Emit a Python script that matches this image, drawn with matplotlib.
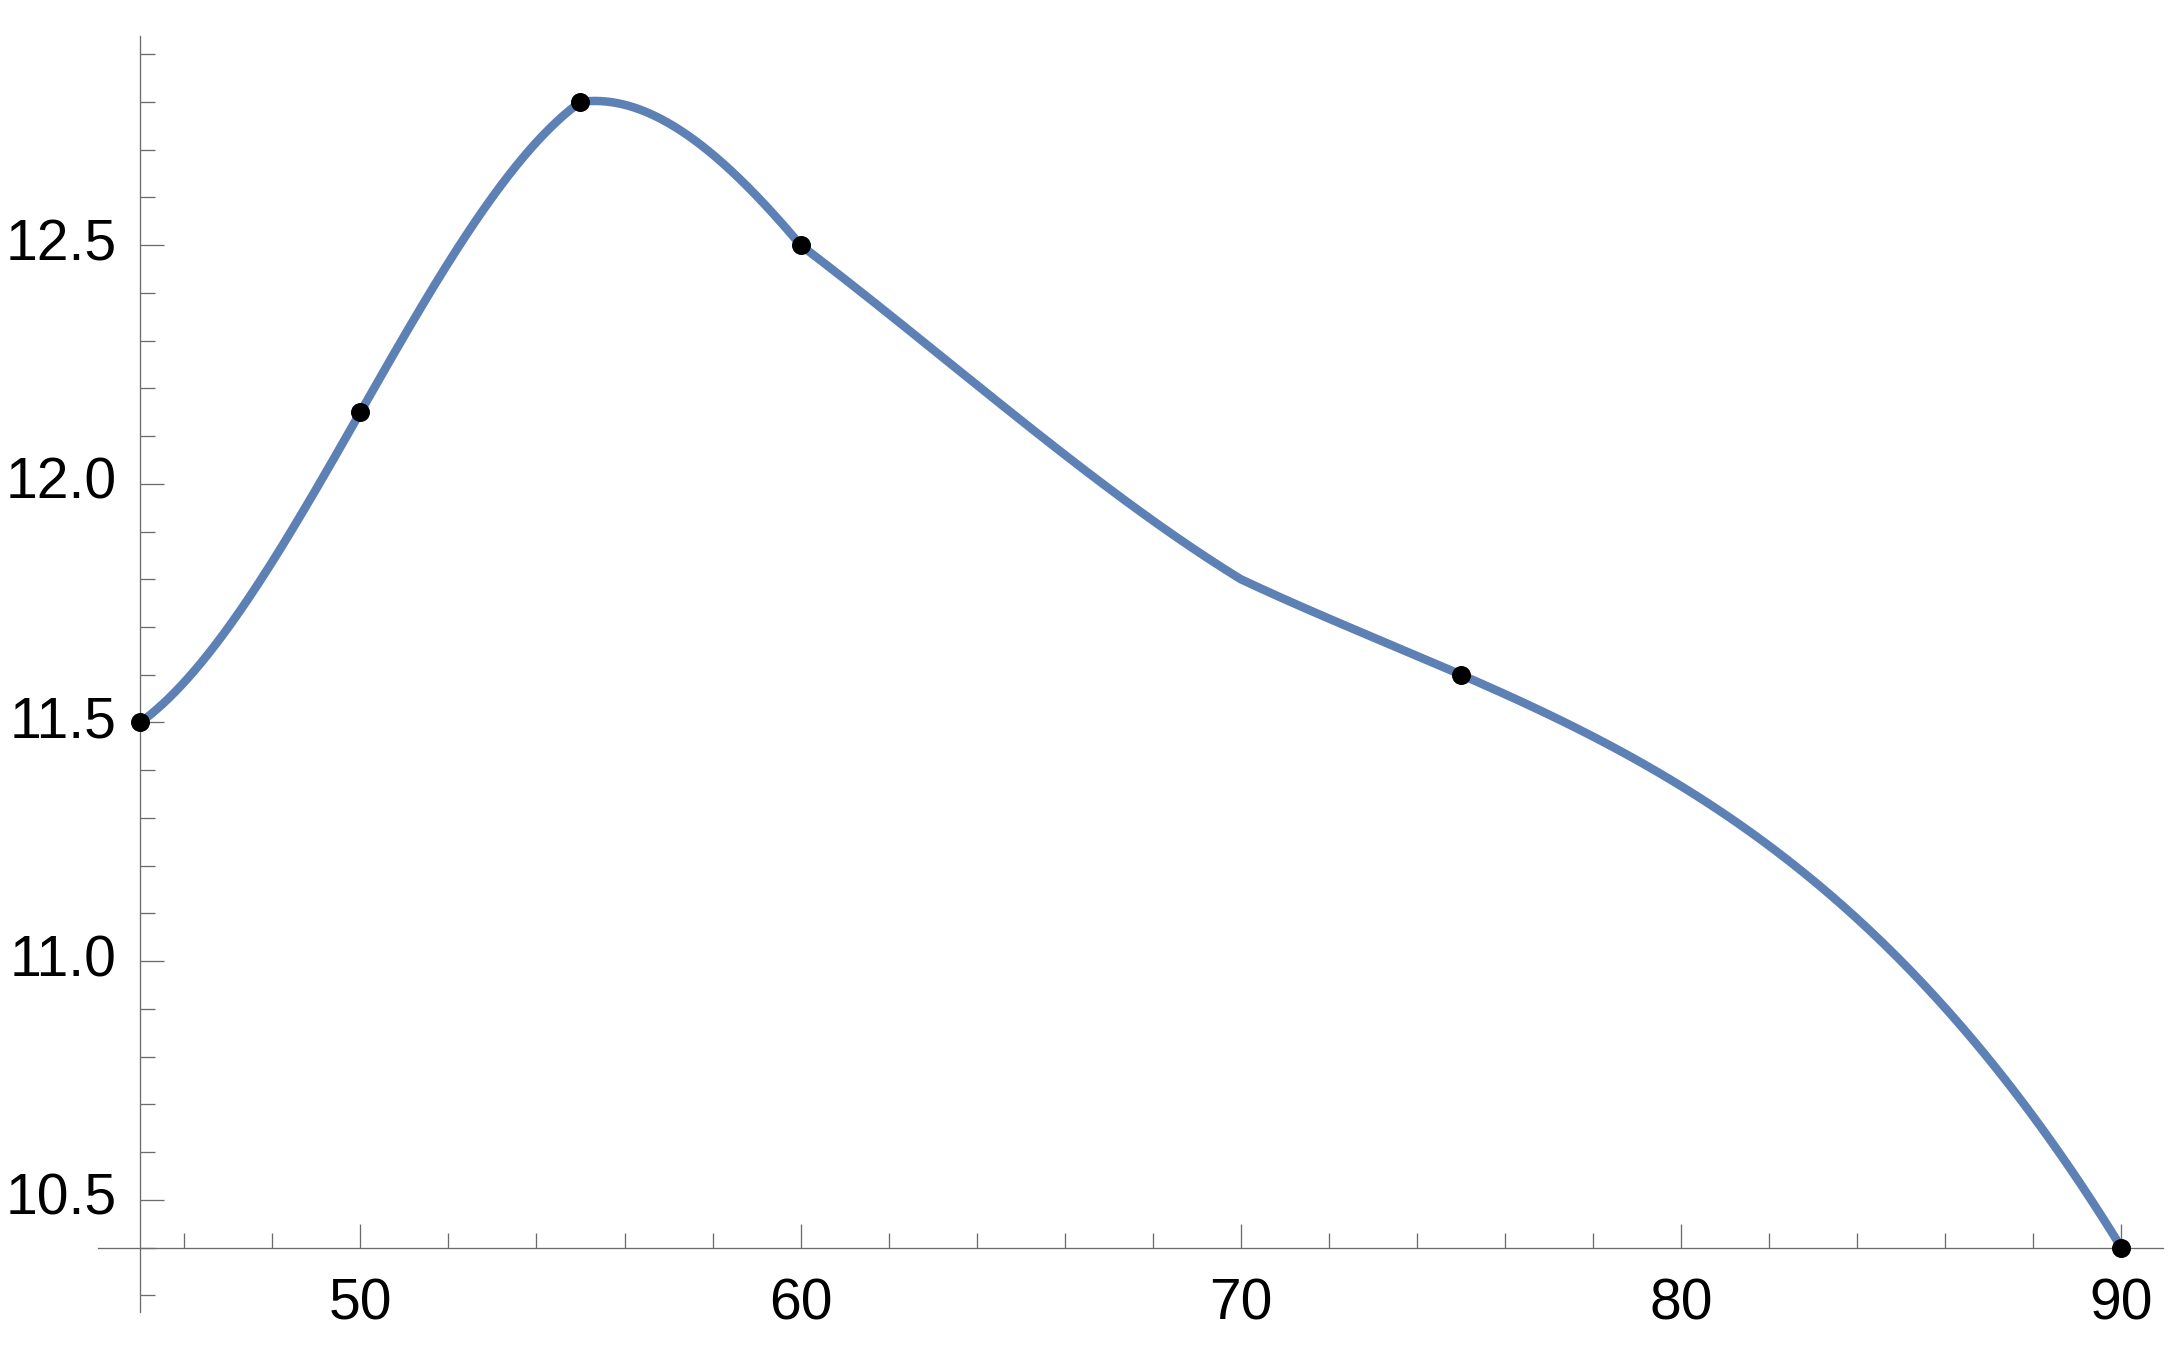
import numpy as np
import matplotlib
matplotlib.use("Agg")
import matplotlib.pyplot as plt
from matplotlib.ticker import MultipleLocator, FixedLocator, FormatStrFormatter

# Interpolation knots (the curve) and the marked points
knot_x = [45, 50, 55, 60, 70, 75, 90]
knot_y = [11.5, 12.15, 12.8, 12.5, 11.8, 11.6, 10.4]
point_x = [45, 50, 55, 60, 75, 90]
point_y = [11.5, 12.15, 12.8, 12.5, 11.6, 10.4]
xticks = [50, 60, 70, 80, 90]
yticks = [10.5, 11.0, 11.5, 12.0, 12.5]


def mma_interp(xs, ys, order=3, per=200):
    """Piecewise cubic interpolation using the 4 nearest knots (Mathematica style)."""
    xs = np.asarray(xs, float)
    ys = np.asarray(ys, float)
    n = len(xs)
    outx, outy = [], []
    for i in range(n - 1):
        j = min(max(i - 1, 0), n - (order + 1))
        sx = xs[j:j + order + 1]
        sy = ys[j:j + order + 1]
        t = np.linspace(xs[i], xs[i + 1], per)
        val = np.zeros_like(t)
        for k in range(len(sx)):
            L = np.ones_like(t)
            for m in range(len(sx)):
                if m != k:
                    L *= (t - sx[m]) / (sx[k] - sx[m])
            val += sy[k] * L
        outx.append(t if i == 0 else t[1:])
        outy.append(val if i == 0 else val[1:])
    return np.concatenate(outx), np.concatenate(outy)


plt.rcParams['font.family'] = ['Liberation Sans', 'DejaVu Sans']
DPI = 72
fig = plt.figure(figsize=(2183 / DPI, 1347 / DPI), dpi=DPI)
W, H = 2183, 1347
ax = fig.add_axes([98 / W, 1 - 1312 / H, (2162.7 - 98) / W, (1312 - 36) / H])

cx, cy = mma_interp(knot_x, knot_y)
ax.plot(cx, cy, color='#5E81B5', lw=8.5, solid_capstyle='butt', zorder=3)
ax.plot(point_x, point_y, 'o', color='black', ms=19, mec='none', zorder=4, clip_on=False)

ax.set_xlim(44.04, 90.94)
ax.set_ylim(10.265, 12.938)

axcol = '#6b6b6b'
for s in ['top', 'right']:
    ax.spines[s].set_visible(False)
ax.spines['left'].set_position(('data', 45))
ax.spines['bottom'].set_position(('data', 10.4))
for s in ['left', 'bottom']:
    ax.spines[s].set_color(axcol)
    ax.spines[s].set_linewidth(1.3)

ax.xaxis.set_major_locator(FixedLocator(xticks))
ax.xaxis.set_minor_locator(MultipleLocator(2))
ax.yaxis.set_major_locator(FixedLocator(yticks))
ax.yaxis.set_minor_locator(MultipleLocator(0.1))
ax.yaxis.set_major_formatter(FormatStrFormatter('%.1f'))
ax.xaxis.set_major_formatter(FormatStrFormatter('%d'))

ax.tick_params(which='both', direction='in', color=axcol, width=1.3, labelsize=57,
               labelcolor='black')
ax.tick_params(which='major', length=24)
ax.tick_params(which='minor', length=15)
ax.tick_params(axis='y', which='major', pad=24)
ax.tick_params(axis='x', which='major', pad=30)
for lab in ax.get_yticklabels():
    lab.set_verticalalignment('center')

fig.savefig('out.png', dpi=DPI, facecolor='white')
